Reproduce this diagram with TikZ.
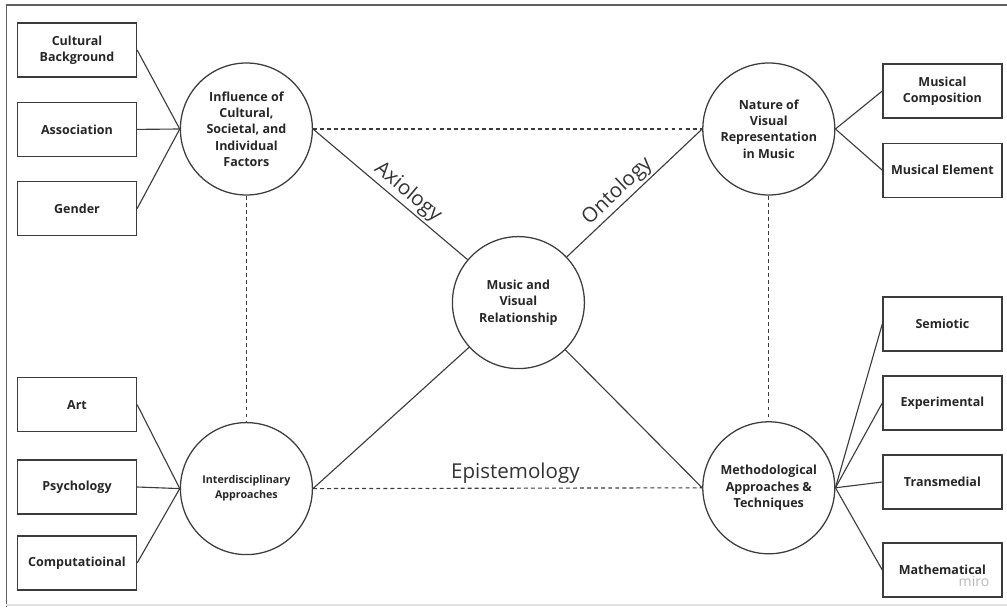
\documentclass[tikz,border=0pt]{standalone}
\usepackage{fontspec}
\setmainfont{Open Sans}
\usetikzlibrary{positioning}
\definecolor{linegray}{RGB}{60,60,60}
\definecolor{framegray}{RGB}{95,95,95}

\begin{document}
\begin{tikzpicture}[
    every node/.style={font=\fontsize{8.9}{11.6}\selectfont\bfseries, text=black!85, align=center},
    box/.style={draw=linegray, line width=0.9pt, minimum width=2.975cm, minimum height=1.35cm},
    topic/.style={draw=linegray, line width=0.9pt, circle, minimum size=3.3cm, inner sep=0pt},
    link/.style={draw=linegray, line width=0.8pt},
    dashlink/.style={link, dash pattern=on 2.8pt off 2.2pt},
    theme/.style={font=\fontsize{14.6}{16}\selectfont, text=black!80}
]
    \useasboundingbox (0,0) rectangle (25.175,15.175);

    % Frame
    \draw[framegray, line width=1.1pt] (0.16,0) -- (0.16,15.05) -- (25.175,15.05);
    \draw[black!12, line width=0.8pt] (0.16,0.05) -- (25.175,0.05);

    % Centre
    \node[topic] (mvr) at (12.96, 7.61) {Music and\\Visual\\Relationship};

    % Topics
    \node[topic] (infl) at (6.16, 11.95) {Influence of\\Cultural,\\Societal, and\\Individual\\Factors};
    \node[topic] (nature) at (19.22, 11.95) {Nature of\\Visual\\Representation\\in Music};
    \node[topic, font=\fontsize{7.6}{10.5}\selectfont\bfseries] (inter) at (6.16, 2.96) {Interdisciplinary\\Approaches};
    \node[topic] (method) at (19.22, 2.98) {Methodological\\Approaches \&\\Techniques};

    % Factors
    \node[box] (cult) at (1.925, 13.925) {Cultural\\Background};
    \node[box] (assoc) at (1.925, 11.94) {Association};
    \node[box] (gender) at (1.925, 9.96) {Gender};

    % Disciplines
    \node[box] (art) at (1.925, 5.06) {Art};
    \node[box] (psych) at (1.925, 3.0) {Psychology};
    \node[box] (comp) at (1.925, 1.1) {Computatioinal};

    % Music
    \node[box] (mcomp) at (23.56, 12.9) {Musical\\Composition};
    \node[box] (melem) at (23.56, 10.92) {Musical Element};

    % Methods
    \node[box] (semio) at (23.56, 7.075) {Semiotic};
    \node[box] (exper) at (23.56, 5.1) {Experimental};
    \node[box] (trans) at (23.56, 3.125) {Transmedial};
    \node[box] (math) at (23.56, 0.925) {Mathematical};

    \node[font=\fontsize{10}{11}\selectfont, text=black!28] (miro) at (24.35, 0.63) {miro};

    % Edges
    \draw[link] (infl.east) -- node[pos=.56, sloped, above, theme, inner sep=1.5pt] {Axiology} (mvr);
    \draw[link] (mvr) -- node[pos=.44, sloped, above, theme, inner sep=1.5pt] {Ontology} (nature.west);
    \draw[link] (inter.east) -- (mvr);
    \draw[link] (method.west) -- (mvr);

    \draw[dashlink] (infl.east) -- (nature.west);
    \draw[dashlink] (infl.south) -- (inter.north);
    \draw[dashlink] (nature.south) -- (method.north);
    \draw[dashlink] (inter.east) -- node[pos=.52, above, theme] {Epistemology} (method.west);

    \draw[link] (cult.east) -- (infl.west);
    \draw[link] (assoc.east) -- (infl.west);
    \draw[link] (gender.east) -- (infl.west);
    \draw[link] (art.east) -- (inter.west);
    \draw[link] (psych.east) -- (inter.west);
    \draw[link] (comp.east) -- (inter.west);
    \draw[link] (nature.east) -- (mcomp.west);
    \draw[link] (nature.east) -- (melem.west);
    \draw[link] (method.east) -- (semio.west);
    \draw[link] (method.east) -- (exper.west);
    \draw[link] (method.east) -- (trans.west);
    \draw[link] (method.east) -- (math.west);
\end{tikzpicture}
\end{document}
